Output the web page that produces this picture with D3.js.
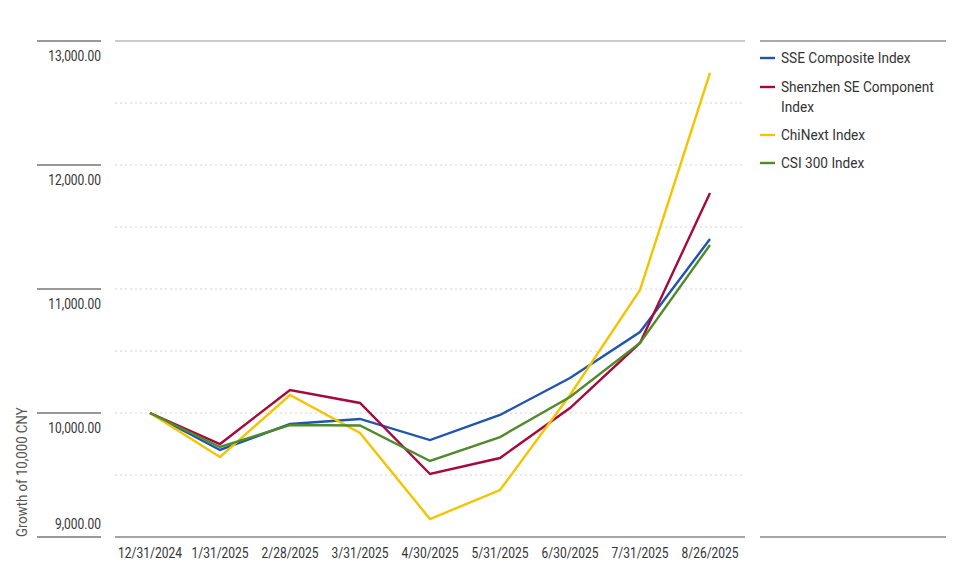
<!DOCTYPE html>
<html lang="en">
<head>
<meta charset="UTF-8" />
<title>Growth of 10,000 CNY</title>
<script src="https://d3js.org/d3.v7.min.js"></script>
<style>
  body { margin: 0; background: #fff; }
  text { font-family: "Roboto", sans-serif; }
</style>
</head>
<body>
<div id="chart"></div>
<script>
const dates = ["12/31/2024", "1/31/2025", "2/28/2025", "3/31/2025", "4/30/2025",
               "5/31/2025", "6/30/2025", "7/31/2025", "8/26/2025"];
const sse      = [10000, 9702, 9911, 9952, 9782, 9984, 10282, 10653, 11403];
const shenzhen = [10000, 9750, 10185, 10081, 9508, 9637, 10040, 10565, 11774];
const chinext  = [10000, 9645, 10145, 9839, 9145, 9379, 10145, 10992, 12742];
const csi300   = [10000, 9726, 9903, 9899, 9613, 9806, 10129, 10565, 11355];
const seriesNames = ["SSE Composite Index", "Shenzhen SE Component Index", "ChiNext Index", "CSI 300 Index"];
const yTicks = [9000, 10000, 11000, 12000, 13000];
const yGrid = [9500, 10000, 10500, 11000, 11500, 12000, 12500];

const width = 972, height = 570;
const colors = ["#1f55b0", "#a6093d", "#f5c400", "#4f8a2b"];
const series = [sse, shenzhen, chinext, csi300].map((v, i) => ({ name: seriesNames[i], values: v, color: colors[i] }));

const svg = d3.select("#chart").append("svg")
  .attr("width", width).attr("height", height);

const x = d3.scalePoint().domain(dates).range([115, 745]).padding(0.5);
const y = d3.scaleLinear().domain([9000, 13000]).range([537, 41]);

// no condensed font installed, so squeeze Roboto horizontally
const narrow = 0.8;

// dotted gridlines
svg.append("g").selectAll("line").data(yGrid).join("line")
  .attr("x1", 115).attr("x2", 745)
  .attr("y1", d => y(d)).attr("y2", d => y(d))
  .attr("stroke", "#d4d4d4").attr("stroke-width", 1)
  .attr("stroke-dasharray", "2,3");

// top line of plot
svg.append("line").attr("x1", 115).attr("x2", 745)
  .attr("y1", y(13000)).attr("y2", y(13000))
  .attr("stroke", "#999").attr("stroke-width", 1);

// bottom axis line
svg.append("line").attr("x1", 115).attr("x2", 745)
  .attr("y1", y(9000)).attr("y2", y(9000))
  .attr("stroke", "#888").attr("stroke-width", 1.5);

// y tick lines and labels
const yt = svg.append("g");
yt.selectAll("line").data(yTicks).join("line")
  .attr("x1", 37).attr("x2", 101)
  .attr("y1", d => y(d)).attr("y2", d => y(d))
  .attr("stroke", "#777").attr("stroke-width", 1.5);
yt.selectAll("text").data(yTicks).join("text")
  .attr("transform", d => `translate(101,${d === 9000 ? y(d) - 8 : y(d) + 20}) scale(${narrow},1)`)
  .attr("text-anchor", "end")
  .attr("font-size", 15)
  .attr("fill", "#333")
  .text(d => d3.format(",.2f")(d));

svg.append("text")
  .attr("transform", `translate(27,${y(9000)}) rotate(-90) scale(0.88,1)`)
  .attr("text-anchor", "start")
  .attr("font-size", 15)
  .attr("fill", "#555")
  .text("Growth of 10,000 CNY");

// x labels
svg.append("g").selectAll("text").data(dates).join("text")
  .attr("transform", d => `translate(${x(d)},558) scale(${narrow},1)`)
  .attr("text-anchor", "middle")
  .attr("font-size", 15)
  .attr("fill", "#333")
  .text(d => d);

// lines
const line = d3.line().x((d, i) => x(dates[i])).y(d => y(d));
svg.append("g").selectAll("path").data(series).join("path")
  .attr("d", d => line(d.values))
  .attr("fill", "none")
  .attr("stroke", d => d.color)
  .attr("stroke-width", 2.4)
  .attr("stroke-linejoin", "miter");

// legend
svg.append("line").attr("x1", 760).attr("x2", 946).attr("y1", 41).attr("y2", 41)
  .attr("stroke", "#555").attr("stroke-width", 1);
svg.append("line").attr("x1", 760).attr("x2", 946).attr("y1", y(9000)).attr("y2", y(9000))
  .attr("stroke", "#888").attr("stroke-width", 1.5);

const legendLines = [["SSE Composite Index"], ["Shenzhen SE Component", "Index"], ["ChiNext Index"], ["CSI 300 Index"]];
const legendY = [58, 87, 135, 163];
const lg = svg.append("g").selectAll("g").data(series).join("g")
  .attr("transform", (d, i) => `translate(760,${legendY[i]})`);
lg.append("line").attr("x1", 0).attr("x2", 15).attr("y1", 0).attr("y2", 0)
  .attr("stroke", d => d.color).attr("stroke-width", 2.4);
lg.append("text")
  .attr("transform", "translate(21,0) scale(0.88,1)")
  .attr("font-size", 15.5)
  .attr("fill", "#333")
  .selectAll("tspan").data((d, i) => legendLines[i]).join("tspan")
  .attr("x", 0)
  .attr("dy", (d, j) => j === 0 ? "0.35em" : "20px")
  .text(d => d);
</script>
</body>
</html>
